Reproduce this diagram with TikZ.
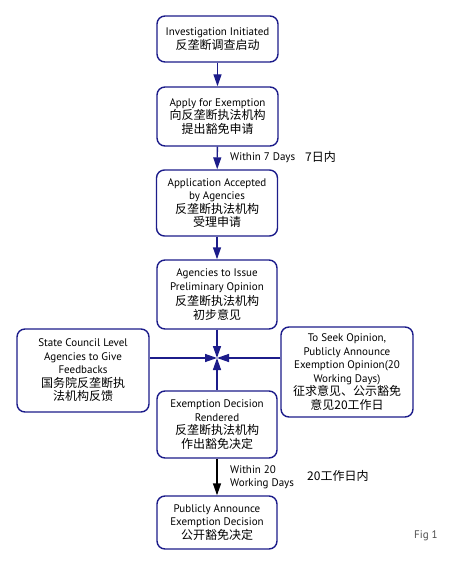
\documentclass[tikz,border=0pt]{standalone}
\usepackage{fontspec}
\setmainfont{PT Sans}
\newfontfamily\cjk{Noto Sans CJK SC}
\usetikzlibrary{arrows.meta}
\definecolor{navy}{HTML}{1C1C8A}
\tikzset{
  box/.style={draw=navy, line width=1.4pt, rounded corners=8pt, fill=white, align=center,
    font=\fontsize{11}{13.5}\selectfont, inner sep=1pt},
  flow/.style={draw=navy, line width=1.4pt, -{Triangle[length=12pt,width=8pt]}, fill=navy},
  lbl/.style={font=\fontsize{11}{12.5}\selectfont, align=left, inner sep=0pt},
}
\newcommand{\zh}[1]{{\cjk\fontsize{12}{14.5}\selectfont #1}}
\begin{document}
\begin{tikzpicture}[x=1pt,y=-1pt]
\useasboundingbox (0,0) rectangle (450,572);
\node[box, minimum width=121pt, minimum height=46pt] (b1) at (217.5,39)
  {Investigation Initiated\\ \zh{反垄断调查启动}};
\node[box, minimum width=121pt, minimum height=59pt] (b2) at (217.5,116.5)
  {Apply for Exemption\\ \zh{向反垄断执法机构}\\ \zh{提出豁免申请}};
\node[box, minimum width=121pt, minimum height=66pt] (b3) at (217,203)
  {Application Accepted\\ by Agencies\\ \zh{反垄断执法机构}\\ \zh{受理申请}};
\node[box, minimum width=120pt, minimum height=69pt] (b4) at (217,294.5)
  {Agencies to Issue\\ Preliminary Opinion\\[2pt] \zh{反垄断执法机构}\\ \zh{初步意见}};
\node[box, minimum width=132pt, minimum height=83pt] (bl) at (83,370.5)
  {State Council Level\\ Agencies to Give\\ Feedbacks\\ \zh{国务院反垄断执}\\ \zh{法机构反馈}};
\node[box, minimum width=132pt, minimum height=90pt] (br) at (347,372)
  {To Seek Opinion,\\ Publicly Announce\\ Exemption Opinion(20\\ Working Days)\\ \zh{征求意见、公示豁免}\\ \zh{意见20工作日}};
\node[box, minimum width=120pt, minimum height=67pt] (b5) at (217,424.5)
  {Exemption Decision\\ Rendered\\ \zh{反垄断执法机构}\\ \zh{作出豁免决定}};
\node[box, minimum width=120pt, minimum height=53pt] (b6) at (217,522.5)
  {Publicly Announce\\ Exemption Decision\\ \zh{公开豁免决定}};
\coordinate (c) at (217,358);
\draw[flow] (b1) -- (b2);
\draw[flow] (b2) -- (b3);
\draw[flow] (b3) -- (b4);
\draw[flow] (b4.south) -- (c);
\draw[flow] (b5.north) -- (c);
\draw[flow] (c -| bl.east) -- (c);
\draw[flow] (c -| br.west) -- (c);
\draw[line width=1.4pt, -{Triangle[length=12pt,width=8pt]}] (b5) -- (b6);
\node[lbl, anchor=west] (t1) at (230,158) {Within 7 Days};
\node[lbl, anchor=west] (t2) at (305,157) {\zh{7日内}};
\node[lbl, anchor=west] (t3) at (230,477) {Within 20\\Working Days};
\node[lbl, anchor=west] (t4) at (307,476) {\zh{20工作日内}};
\node[lbl, anchor=west, font=\fontsize{11}{12}\selectfont\color{black!70}] (fig) at (414,536) {Fig 1};
\end{tikzpicture}
\end{document}
